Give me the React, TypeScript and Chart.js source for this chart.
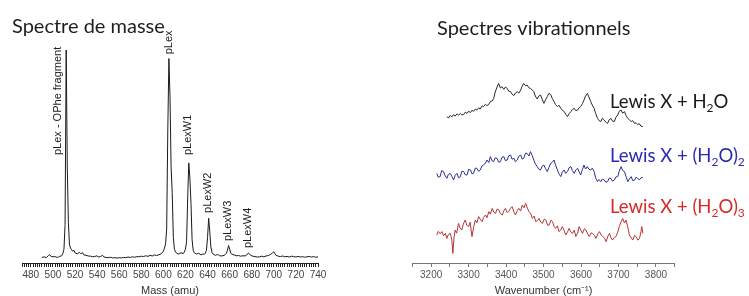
import React, { useEffect, useRef } from 'react';
import { Chart, registerables } from 'chart.js';

Chart.register(...registerables);

// ---------- Mass spectrum ----------
const massAmu = [
  490, 492, 494, 496, 497, 498, 500, 502, 504, 506, 508, 509, 510, 511, 512, 513, 514, 515, 516, 517,
  518, 519, 520, 522, 524, 525, 527, 528, 530, 532, 534, 536, 538, 540, 541, 543, 545, 546, 548, 550,
  552, 554, 556, 558, 560, 562, 564, 566, 568, 570, 572, 574, 576, 578, 580, 582, 584, 586, 588, 590,
  592, 594, 596, 598, 600, 601, 602, 603, 604, 605, 606, 607, 608, 609, 610, 611, 612, 614, 616, 618,
  619, 620, 621, 622, 623, 624, 625, 626, 627, 628, 630, 632, 634, 636, 637, 638, 639, 640, 641, 642,
  643, 644, 645, 647, 649, 651, 653, 655, 656, 657, 658, 659, 660, 661, 662, 664, 666, 668, 670, 672,
  674, 676, 677, 678, 679, 681, 683, 685, 687, 689, 691, 693, 695, 697, 699, 700, 701, 702, 704, 706,
  708, 710, 712, 714, 716, 718, 720, 722, 724, 726, 728, 730, 732, 734, 736, 738, 740,
];
const massIntensity = [
  2.6, 2.9, 2.5, 3.6, 3.9, 3.2, 2.9, 3.0, 2.6, 3.1, 3.4, 4.5, 6.5, 18, 100, 45, 19, 8.5, 7.0, 6.2,
  5.5, 6.0, 4.8, 4.3, 5.0, 4.4, 4.8, 3.8, 3.6, 3.3, 3.2, 2.9, 3.1, 3.4, 2.8, 3.0, 3.6, 2.9, 2.6, 2.5,
  2.7, 2.4, 2.5, 2.3, 2.5, 2.4, 2.6, 2.5, 2.8, 2.6, 2.9, 2.7, 3.0, 2.9, 3.2, 3.0, 3.4, 3.1, 3.6, 3.3,
  3.8, 3.5, 3.9, 4.3, 5.5, 7, 9, 16, 62, 96, 78, 45, 33, 12, 6.5, 5.2, 4.6, 4.2, 4.8, 4.4,
  5.2, 6.5, 10, 30, 47, 40, 28, 11, 6, 4.8, 4.2, 4.6, 3.8, 4.3, 4.0, 4.6, 6, 12, 21, 15,
  7.5, 5, 4.2, 3.6, 4.0, 3.4, 3.3, 3.6, 3.9, 4.5, 6, 8.2, 6.5, 4.6, 4.2, 3.8, 3.4, 3.5, 3.2, 3.4,
  3.3, 4.0, 4.7, 4.3, 3.6, 3.2, 3.0, 2.8, 2.9, 3.2, 2.9, 3.3, 3.5, 4.0, 4.8, 5.3, 4.3, 3.6, 3.2, 3.0,
  3.3, 2.9, 3.1, 2.8, 3.2, 3.0, 2.8, 3.1, 2.8, 3.0, 2.7, 2.9, 3.1, 2.8, 3.0, 2.7, 2.9,
];
const massTickLabels = [480, 500, 520, 540, 560, 580, 600, 620, 640, 660, 680, 700, 720, 740];
const peakLabels = ['pLex - OPhe fragment', 'pLex', 'pLexW1', 'pLexW2', 'pLexW3', 'pLexW4'];
const peakLabelAmu = [504.4, 605.5, 622.6, 640.7, 658.8, 676.8];
const peakLabelIntensity = [50.7, 98, 50.7, 23.5, 10.3, 7];

// ---------- Vibrational spectra ----------
const wnH2O = [
  3242, 3246, 3251, 3255, 3260, 3264, 3269, 3273, 3278, 3282, 3287, 3291, 3296, 3300, 3305, 3309, 3313, 3318, 3322, 3327,
  3331, 3336, 3340, 3345, 3349, 3354, 3358, 3363, 3367, 3371, 3376, 3380, 3385, 3389, 3394, 3398, 3403, 3407, 3412, 3416,
  3421, 3425, 3430, 3434, 3439, 3443, 3447, 3452, 3456, 3461, 3465, 3470, 3474, 3478, 3483, 3487, 3492, 3496, 3501, 3505,
  3510, 3514, 3519, 3523, 3528, 3532, 3537, 3541, 3546, 3550, 3555, 3559, 3564, 3568, 3573, 3577, 3582, 3586, 3591, 3595,
  3599, 3604, 3608, 3612, 3617, 3621, 3626, 3630, 3635, 3639, 3644, 3648, 3653, 3657, 3662, 3666, 3671, 3675, 3680, 3684,
  3689, 3693, 3698, 3702, 3707, 3711, 3716, 3720, 3725, 3729, 3734, 3738, 3743, 3747, 3751, 3756, 3760, 3765,
];
const sigH2O = [
  73.2, 72.5, 73.8, 73.0, 74.2, 73.4, 74.6, 73.9, 74.8, 74.0, 74.3, 75.4, 74.8, 75.9, 75.2, 76.4, 75.8, 77.0, 76.5, 77.6,
  77.0, 78.6, 78.2, 79.4, 78.7, 79.3, 80.8, 81.0, 82.3, 85.5, 88.0, 89.8, 87.5, 88.2, 86.8, 88.0, 87.3, 85.9, 85.7, 84.4,
  83.7, 85.0, 85.7, 84.9, 86.5, 88.4, 89.8, 88.6, 89.0, 87.6, 87.3, 86.5, 85.7, 83.5, 82.0, 83.4, 84.0, 82.0, 79.8, 81.5,
  83.2, 84.8, 84.3, 82.4, 80.7, 79.2, 78.2, 78.9, 77.3, 76.4, 75.7, 74.5, 73.2, 74.6, 75.7, 76.8, 77.3, 76.2, 76.5, 77.6,
  78.2, 79.8, 81.5, 83.5, 84.8, 83.0, 80.7, 79.0, 77.3, 74.8, 72.3, 71.2, 70.7, 72.4, 71.5, 70.4, 69.8, 71.6, 72.3, 71.0,
  70.7, 72.8, 74.0, 75.8, 76.5, 74.9, 75.7, 73.8, 72.3, 71.6, 70.7, 71.2, 69.8, 70.1, 69.3, 69.6, 68.4, 68.2,
];
const wnH2O2 = [
  3215, 3219, 3224, 3228, 3233, 3237, 3242, 3246, 3251, 3255, 3260, 3264, 3269, 3273, 3278, 3282, 3287, 3291, 3296, 3300,
  3305, 3309, 3313, 3318, 3322, 3327, 3331, 3336, 3340, 3345, 3349, 3354, 3358, 3363, 3367, 3371, 3376, 3380, 3385, 3389,
  3394, 3398, 3403, 3407, 3412, 3416, 3421, 3425, 3430, 3434, 3439, 3443, 3447, 3452, 3456, 3461, 3465, 3470, 3474, 3478,
  3483, 3487, 3492, 3496, 3501, 3505, 3510, 3514, 3519, 3523, 3528, 3532, 3537, 3541, 3546, 3550, 3555, 3559, 3564, 3568,
  3573, 3577, 3582, 3586, 3591, 3595, 3599, 3604, 3608, 3612, 3617, 3621, 3626, 3630, 3635, 3639, 3644, 3648, 3653, 3657,
  3662, 3666, 3671, 3675, 3680, 3684, 3689, 3693, 3698, 3702, 3707, 3711, 3716, 3720, 3725, 3729, 3734, 3738, 3743, 3747,
  3751, 3756, 3760, 3765,
];
const sigH2O2 = [
  44.8, 42.9, 43.2, 46.2, 45.7, 43.8, 42.3, 44.3, 44.8, 43.4, 41.5, 43.8, 44.8, 42.6, 43.2, 45.9, 45.7, 44.1, 44.0, 46.8,
  46.5, 44.6, 44.8, 47.5, 47.3, 45.8, 46.5, 48.6, 49.0, 50.0, 51.5, 50.2, 53.2, 51.0, 50.7, 52.6, 52.3, 50.4, 50.7, 52.8,
  53.2, 51.2, 51.5, 53.6, 54.0, 51.9, 52.3, 50.6, 51.5, 53.4, 54.0, 52.0, 52.3, 54.9, 54.8, 53.5, 55.7, 53.6, 51.5, 49.6,
  48.2, 47.0, 46.5, 48.4, 49.0, 47.2, 45.7, 47.6, 49.8, 50.4, 51.5, 49.0, 46.5, 44.6, 43.2, 45.4, 46.5, 44.8, 45.7, 47.6,
  48.2, 46.2, 44.8, 46.5, 47.3, 45.6, 44.0, 46.9, 49.0, 47.0, 48.2, 46.9, 46.5, 47.4, 45.7, 42.6, 40.7, 41.7, 40.7, 42.0,
  41.5, 40.4, 40.7, 42.4, 42.3, 40.9, 41.5, 43.0, 43.2, 45.9, 48.2, 46.2, 45.7, 43.2, 40.7, 42.0, 43.2, 41.2, 41.5, 42.9,
  42.3, 41.6, 42.6, 42.8,
];
const wnH2O3 = [
  3215, 3219, 3224, 3229, 3233, 3238, 3242, 3246, 3251, 3255, 3258, 3261, 3264, 3268, 3273, 3277, 3282, 3286, 3291, 3295,
  3300, 3304, 3309, 3313, 3318, 3322, 3327, 3331, 3336, 3340, 3345, 3349, 3354, 3358, 3363, 3367, 3372, 3376, 3381, 3385,
  3390, 3394, 3398, 3403, 3407, 3412, 3416, 3421, 3425, 3430, 3434, 3439, 3443, 3448, 3452, 3457, 3461, 3466, 3470, 3475,
  3479, 3484, 3488, 3493, 3497, 3502, 3506, 3511, 3515, 3520, 3524, 3528, 3532, 3537, 3541, 3546, 3550, 3555, 3559, 3564,
  3568, 3573, 3577, 3582, 3586, 3591, 3595, 3600, 3604, 3609, 3613, 3618, 3622, 3627, 3631, 3636, 3640, 3645, 3649, 3654,
  3658, 3663, 3667, 3672, 3676, 3680, 3684, 3689, 3693, 3698, 3702, 3707, 3711, 3716, 3720, 3725, 3729, 3734, 3738, 3743,
  3747, 3752, 3756, 3760, 3762, 3765,
];
const sigH2O3 = [
  14.0, 15.8, 14.6, 15.7, 13.6, 14.8, 12.3, 14.2, 14.8, 12.0, 4.8, 12.5, 16.5, 14.9, 19.8, 17.5, 16.5, 19.6, 21.5, 18.9,
  18.2, 20.4, 13.2, 17.6, 21.5, 20.1, 23.2, 21.9, 20.7, 22.8, 24.0, 22.6, 25.7, 24.4, 27.3, 25.5, 24.8, 27.0, 26.5, 24.6,
  24.0, 26.1, 27.3, 25.2, 25.7, 27.4, 28.2, 25.5, 24.0, 26.2, 27.3, 26.0, 29.0, 27.6, 29.8, 27.4, 25.7, 24.6, 22.3, 23.5,
  20.7, 21.2, 22.3, 20.4, 19.8, 22.0, 21.5, 18.8, 19.0, 21.4, 20.7, 18.3, 17.3, 18.6, 15.7, 16.5, 18.2, 16.2, 14.0, 15.6,
  17.3, 15.5, 14.8, 16.4, 13.2, 15.0, 18.2, 16.3, 14.8, 17.2, 16.5, 14.5, 13.2, 15.1, 14.8, 13.8, 12.3, 14.6, 15.7, 14.0,
  13.2, 12.4, 10.7, 13.5, 14.8, 12.6, 11.5, 12.8, 13.2, 15.4, 18.2, 20.6, 22.3, 20.0, 21.5, 17.8, 14.0, 12.6, 11.5, 13.8,
  13.2, 11.4, 12.3, 15.6, 18.2, 14.8,
];
const wavenumberTickLabels = [3200, 3300, 3400, 3500, 3600, 3700, 3800];
const seriesNames = ['Lewis X + H₂O', 'Lewis X + (H₂O)₂', 'Lewis X + (H₂O)₃'];
const seriesLineColors = ['#2a2a2a', '#2b2f8f', '#b53535'];
const seriesTextColors = ['#1a1a1a', '#2a2ab0', '#d42a2a'];

const TICK_FONT = { family: '"Liberation Sans", Arial, sans-serif', size: 10, lineHeight: 1.2 };
const TITLE_FONT = '"Lato", "Open Sans", sans-serif';

function drawRich(ctx: CanvasRenderingContext2D, text: string, x: number, y: number, size: number, color: string) {
  ctx.save();
  ctx.fillStyle = color;
  ctx.textBaseline = 'alphabetic';
  ctx.textAlign = 'left';
  let cx = x;
  let run = '';
  const flush = () => {
    if (!run) return;
    ctx.font = `${size}px ${TITLE_FONT}`;
    ctx.fillText(run, cx, y);
    cx += ctx.measureText(run).width;
    run = '';
  };
  for (const ch of text) {
    const sub = ch === '₂' ? '2' : ch === '₃' ? '3' : null;
    if (sub) {
      flush();
      const s = size * 0.65;
      ctx.font = `${s}px ${TITLE_FONT}`;
      ctx.fillText(sub, cx, y + size * 0.2);
      cx += ctx.measureText(sub).width;
    } else {
      run += ch;
    }
  }
  flush();
  ctx.restore();
}

function makeTitlePlugin(id: string, text: string, x: number, y: number) {
  return {
    id,
    afterDraw(chart: any) {
      const ctx = chart.ctx as CanvasRenderingContext2D;
      ctx.save();
      ctx.font = `20px ${TITLE_FONT}`;
      ctx.fillStyle = '#1e1e1e';
      ctx.textBaseline = 'alphabetic';
      ctx.textAlign = 'left';
      ctx.fillText(text, x, y);
      ctx.restore();
    },
  };
}

const peakLabelPlugin = {
  id: 'peakLabels',
  afterDraw(chart: any) {
    const ctx = chart.ctx as CanvasRenderingContext2D;
    const xs = chart.scales.x;
    const ys = chart.scales.y;
    ctx.save();
    ctx.font = '11px "Liberation Sans", Arial, sans-serif';
    ctx.fillStyle = '#1a1a1a';
    ctx.textAlign = 'left';
    ctx.textBaseline = 'middle';
    peakLabels.forEach((t, i) => {
      const px = xs.getPixelForValue(peakLabelAmu[i]);
      const py = ys.getPixelForValue(peakLabelIntensity[i]);
      ctx.save();
      ctx.translate(px, py);
      ctx.rotate(-Math.PI / 2);
      ctx.fillText(t, 0, 0);
      ctx.restore();
    });
    ctx.restore();
  },
};

const seriesLabelPlugin = {
  id: 'seriesLabels',
  afterDraw(chart: any) {
    const ctx = chart.ctx as CanvasRenderingContext2D;
    const baselines = [108, 162, 213];
    seriesNames.forEach((n, i) => {
      drawRich(ctx, n, 210, baselines[i], 18.5, seriesTextColors[i]);
    });
  },
};

function MassChart() {
  const ref = useRef<HTMLCanvasElement>(null);
  useEffect(() => {
    const chart = new Chart(ref.current!, {
      type: 'line',
      data: {
        datasets: [
          {
            data: massAmu.map((x, i) => ({ x, y: massIntensity[i] })),
            borderColor: '#1a1a1a',
            borderWidth: 1,
            pointRadius: 0,
            tension: 0,
            fill: false,
          },
        ],
      },
      options: {
        animation: false,
        responsive: false,
        maintainAspectRatio: false,
        layout: { padding: { left: 22, right: 57, top: 50, bottom: 0 } },
        plugins: { legend: { display: false }, tooltip: { enabled: false } },
        scales: {
          x: {
            type: 'linear',
            min: 472,
            max: 740,
            border: { display: true, color: '#222', width: 1 },
            grid: { display: true, drawOnChartArea: false, drawTicks: true, tickLength: 4, tickColor: '#222' },
            ticks: {
              stepSize: 2,
              autoSkip: false,
              maxRotation: 0,
              minRotation: 0,
              padding: 2,
              color: '#444',
              font: TICK_FONT,
              callback: (v: any) => (massTickLabels.includes(Math.round(Number(v))) ? String(Math.round(Number(v))) : ''),
            },
            title: {
              display: true,
              text: 'Mass (amu)',
              color: '#333',
              font: { family: '"Liberation Sans", Arial, sans-serif', size: 11, lineHeight: 1 },
              padding: { top: 2, bottom: 0 },
            },
          },
          y: { display: false, min: 0, max: 100 },
        },
      },
      plugins: [peakLabelPlugin, makeTitlePlugin('massTitle', 'Spectre de masse', 12, 33)],
    } as any);
    return () => chart.destroy();
  }, []);
  return (
    <canvas ref={ref} width={375} height={296} style={{ position: 'absolute', left: 0, top: 0, width: 375, height: 296 }} />
  );
}

function VibChart() {
  const ref = useRef<HTMLCanvasElement>(null);
  useEffect(() => {
    const sets = [
      [wnH2O, sigH2O],
      [wnH2O2, sigH2O2],
      [wnH2O3, sigH2O3],
    ];
    const chart = new Chart(ref.current!, {
      type: 'line',
      data: {
        datasets: sets.map(([xs, ys], k) => ({
          label: seriesNames[k],
          data: xs.map((x, i) => ({ x, y: ys[i] })),
          borderColor: seriesLineColors[k],
          borderWidth: 1,
          pointRadius: 0,
          tension: 0,
          fill: false,
        })),
      },
      options: {
        animation: false,
        responsive: false,
        maintainAspectRatio: false,
        layout: { padding: { left: 12.4, right: 74.3, top: 63, bottom: 0 } },
        plugins: { legend: { display: false }, tooltip: { enabled: false } },
        scales: {
          x: {
            type: 'linear',
            min: 3150,
            max: 3850,
            border: { display: true, color: '#777', width: 1 },
            grid: { display: true, drawOnChartArea: false, drawTicks: true, tickLength: 4, tickColor: '#777' },
            ticks: {
              stepSize: 50,
              autoSkip: false,
              maxRotation: 0,
              minRotation: 0,
              padding: 2,
              color: '#555',
              font: TICK_FONT,
              callback: (v: any) =>
                wavenumberTickLabels.includes(Math.round(Number(v))) ? String(Math.round(Number(v))) : '',
            },
            title: {
              display: true,
              text: 'Wavenumber (cm⁻¹)',
              color: '#333',
              font: { family: '"Liberation Sans", Arial, sans-serif', size: 11, lineHeight: 1 },
              padding: { top: 2, bottom: 0 },
            },
          },
          y: { display: false, min: 0, max: 100 },
        },
      },
      plugins: [seriesLabelPlugin, makeTitlePlugin('vibTitle', 'Spectres vibrationnels', 37, 35)],
    } as any);
    return () => chart.destroy();
  }, []);
  return (
    <canvas ref={ref} width={349} height={296} style={{ position: 'absolute', left: 400, top: 0, width: 349, height: 296 }} />
  );
}

export default function App() {
  useEffect(() => {
    document.body.style.margin = '0';
  }, []);
  return (
    <div style={{ position: 'relative', width: 749, height: 296, overflow: 'hidden', background: '#fff' }}>
      <MassChart />
      <VibChart />
    </div>
  );
}
